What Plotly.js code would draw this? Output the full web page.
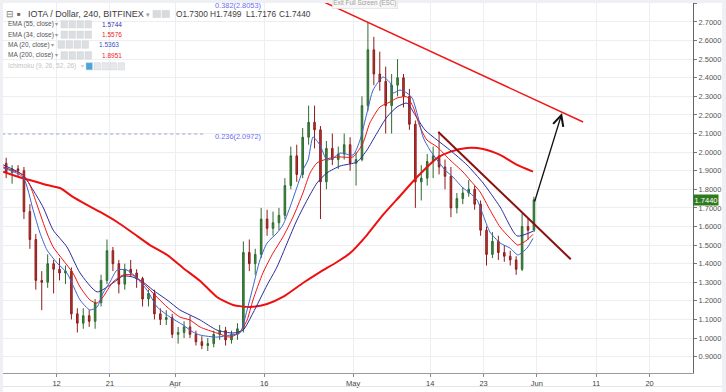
<!DOCTYPE html>
<html><head><meta charset="utf-8">
<script src="https://cdn.plot.ly/plotly-3.0.1.min.js"></script>
<style>html,body{margin:0;padding:0;background:#fff;}#chart{width:726px;height:392px;}</style>
</head><body><div id="chart"></div>
<script>
// ---------- DATA ----------
const dates = [
'2018-03-03','2018-03-04','2018-03-05','2018-03-06','2018-03-07','2018-03-08','2018-03-09','2018-03-10','2018-03-11','2018-03-12',
'2018-03-13','2018-03-14','2018-03-15','2018-03-16','2018-03-17','2018-03-18','2018-03-19','2018-03-20','2018-03-21','2018-03-22',
'2018-03-23','2018-03-24','2018-03-25','2018-03-26','2018-03-27','2018-03-28','2018-03-29','2018-03-30','2018-03-31',
'2018-04-01','2018-04-02','2018-04-03','2018-04-04','2018-04-05','2018-04-06','2018-04-07','2018-04-08','2018-04-09','2018-04-10',
'2018-04-11','2018-04-12','2018-04-13','2018-04-14','2018-04-15','2018-04-16','2018-04-17','2018-04-18','2018-04-19','2018-04-20',
'2018-04-21','2018-04-22','2018-04-23','2018-04-24','2018-04-25','2018-04-26','2018-04-27','2018-04-28','2018-04-29','2018-04-30',
'2018-05-01','2018-05-02','2018-05-03','2018-05-04','2018-05-05','2018-05-06','2018-05-07','2018-05-08','2018-05-09','2018-05-10',
'2018-05-11','2018-05-12','2018-05-13','2018-05-14','2018-05-15','2018-05-16','2018-05-17','2018-05-18','2018-05-19','2018-05-20',
'2018-05-21','2018-05-22','2018-05-23','2018-05-24','2018-05-25','2018-05-26','2018-05-27','2018-05-28','2018-05-29','2018-05-30','2018-05-31'];
const opens = [
1.94,1.89,1.91,1.90,1.68,1.53,1.31,1.30,1.40,1.37,
1.35,1.36,1.13,1.08,1.12,1.09,1.19,1.31,1.47,1.40,
1.29,1.37,1.35,1.32,1.21,1.24,1.13,1.10,1.11,
1.02,1.03,1.06,1.02,0.98,0.96,0.97,1.02,1.04,0.99,
1.02,1.05,1.46,1.40,1.45,1.64,1.59,1.62,1.66,1.82,
1.98,1.88,2.08,2.16,2.12,1.84,2.02,1.96,1.99,2.04,
1.94,1.96,2.25,2.55,2.42,2.38,2.25,2.36,2.40,2.30,
2.15,1.84,1.86,1.95,1.98,1.92,1.87,1.70,1.75,1.78,
1.80,1.72,1.58,1.45,1.52,1.46,1.44,1.42,1.37,1.60,1.58];
const highs = [
1.97,1.93,1.93,1.92,1.72,1.56,1.36,1.45,1.42,1.43,
1.39,1.38,1.16,1.16,1.15,1.21,1.34,1.53,1.49,1.42,
1.40,1.42,1.37,1.33,1.26,1.26,1.16,1.15,1.13,
1.06,1.09,1.12,1.04,1.01,1.00,1.04,1.07,1.06,1.04,
1.08,1.52,1.53,1.48,1.70,1.69,1.68,1.70,1.86,2.03,
2.04,2.13,2.25,2.25,2.14,2.06,2.10,2.03,2.10,2.08,
2.00,2.30,2.70,2.62,2.54,2.46,2.42,2.50,2.42,2.34,
2.17,1.93,1.99,2.03,2.11,1.96,1.92,1.78,1.81,1.85,
1.82,1.74,1.60,1.57,1.55,1.50,1.47,1.44,1.67,1.64,1.76];
const lows = [
1.86,1.83,1.87,1.64,1.48,1.26,1.15,1.27,1.24,1.31,
1.29,1.10,1.03,1.05,1.06,1.05,1.17,1.29,1.36,1.24,
1.26,1.33,1.27,1.17,1.17,1.10,1.07,1.07,1.00,
0.97,1.00,1.00,0.96,0.94,0.93,0.95,0.99,0.96,0.97,
0.99,1.03,1.36,1.34,1.43,1.55,1.55,1.58,1.64,1.80,
1.84,1.86,2.04,2.02,1.64,1.80,1.93,1.91,1.96,1.90,
1.82,1.95,2.22,2.36,2.33,2.10,2.10,2.30,2.24,2.12,
1.70,1.74,1.82,1.86,1.88,1.80,1.65,1.67,1.72,1.76,
1.69,1.55,1.39,1.43,1.42,1.41,1.39,1.34,1.36,1.53,1.57];
const closes = [
1.89,1.91,1.90,1.68,1.53,1.31,1.30,1.40,1.37,1.35,
1.36,1.13,1.08,1.12,1.09,1.19,1.31,1.47,1.40,1.29,
1.37,1.35,1.32,1.21,1.24,1.13,1.10,1.11,1.02,
1.03,1.06,1.02,0.98,0.96,0.97,1.02,1.04,0.99,1.02,
1.05,1.46,1.40,1.45,1.64,1.59,1.62,1.66,1.82,1.98,
1.88,2.08,2.16,2.12,1.84,2.02,1.96,1.99,2.04,1.94,
1.96,2.25,2.55,2.42,2.38,2.25,2.36,2.40,2.30,2.15,
1.84,1.86,1.95,1.98,1.92,1.87,1.70,1.75,1.78,1.80,
1.72,1.58,1.45,1.52,1.46,1.44,1.42,1.37,1.60,1.58,1.744];

const ma200Dates = ['2018-03-03 00:00','2018-03-06 04:00','2018-03-08 01:00','2018-03-10 09:00','2018-03-12 14:00','2018-03-14 18:00','2018-03-17 03:00','2018-03-19 08:00','2018-03-22 05:00','2018-03-24 21:00','2018-03-27 18:00','2018-03-30 15:00','2018-04-02 08:00','2018-04-05 05:00','2018-04-08 01:00','2018-04-10 18:00','2018-04-13 15:00','2018-04-16 12:00','2018-04-19 04:00','2018-04-22 13:00','2018-04-25 10:00','2018-04-28 07:00','2018-04-30 12:00','2018-05-03 08:00','2018-05-06 01:00','2018-05-08 22:00','2018-05-11 19:00','2018-05-15 04:00','2018-05-17 08:00','2018-05-20 05:00','2018-05-22 22:00','2018-05-25 19:00','2018-05-28 16:00','2018-05-31 08:00'];
const ma200Vals = [1.895,1.861,1.845,1.823,1.807,1.759,1.716,1.678,1.624,1.565,1.500,1.447,1.377,1.307,1.221,1.178,1.167,1.183,1.221,1.296,1.355,1.409,1.457,1.554,1.662,1.764,1.866,1.968,2.001,2.022,2.017,1.985,1.931,1.8951];

const ema55Dates = ['2018-03-03 00:00','2018-03-06 08:00','2018-03-08 01:00','2018-03-09 17:00','2018-03-11 10:00','2018-03-13 18:00','2018-03-15 23:00','2018-03-18 20:00','2018-03-21 12:00','2018-03-23 05:00','2018-03-24 21:00','2018-03-26 14:00','2018-03-28 06:00','2018-03-30 15:00','2018-04-01 19:00','2018-04-03 12:00','2018-04-05 05:00','2018-04-08 01:00','2018-04-10 18:00','2018-04-12 11:00','2018-04-14 03:00','2018-04-16 12:00','2018-04-18 04:00','2018-04-19 21:00','2018-04-21 13:00','2018-04-23 06:00','2018-04-24 22:00','2018-04-26 14:00','2018-04-28 19:00','2018-05-01 16:00','2018-05-03 08:00','2018-05-05 01:00','2018-05-06 17:00','2018-05-08 10:00','2018-05-10 02:00','2018-05-11 11:00','2018-05-13 03:00','2018-05-15 04:00','2018-05-17 08:00','2018-05-20 05:00','2018-05-22 22:00','2018-05-25 19:00','2018-05-28 16:00','2018-05-31 08:00'];
const ema55Vals = [1.931,1.877,1.796,1.705,1.581,1.490,1.350,1.248,1.296,1.334,1.328,1.301,1.258,1.205,1.151,1.124,1.097,1.043,1.027,1.043,1.135,1.285,1.382,1.511,1.635,1.742,1.834,1.888,1.925,1.947,2.011,2.103,2.189,2.243,2.264,2.200,2.119,2.065,2.011,1.931,1.834,1.705,1.549,1.5744];

const ema34Dates = ['2018-03-03 00:00','2018-03-06 08:00','2018-03-07 12:00','2018-03-08 17:00','2018-03-10 09:00','2018-03-11 10:00','2018-03-13 02:00','2018-03-14 18:00','2018-03-15 23:00','2018-03-17 15:00','2018-03-18 20:00','2018-03-19 20:00','2018-03-21 12:00','2018-03-23 05:00','2018-03-24 21:00','2018-03-26 14:00','2018-03-28 06:00','2018-03-30 15:00','2018-04-01 19:00','2018-04-03 12:00','2018-04-05 05:00','2018-04-08 01:00','2018-04-10 06:00','2018-04-11 22:00','2018-04-13 03:00','2018-04-14 03:00','2018-04-15 19:00','2018-04-17 12:00','2018-04-19 04:00','2018-04-20 21:00','2018-04-22 13:00','2018-04-23 18:00','2018-04-24 22:00','2018-04-27 03:00','2018-04-28 19:00','2018-05-01 00:00','2018-05-02 16:00','2018-05-03 20:00','2018-05-05 13:00','2018-05-07 06:00','2018-05-08 10:00','2018-05-10 02:00','2018-05-11 03:00','2018-05-12 07:00','2018-05-13 11:00','2018-05-15 04:00','2018-05-17 08:00','2018-05-19 13:00','2018-05-20 17:00','2018-05-22 10:00','2018-05-24 02:00','2018-05-25 19:00','2018-05-27 11:00','2018-05-28 19:00','2018-05-30 08:00','2018-05-31 08:00'];
const ema34Vals = [1.920,1.877,1.823,1.716,1.565,1.490,1.420,1.350,1.275,1.205,1.188,1.221,1.301,1.339,1.339,1.296,1.242,1.167,1.113,1.097,1.059,1.027,1.005,1.032,1.097,1.205,1.350,1.457,1.543,1.651,1.780,1.888,1.942,1.968,1.974,1.974,2.049,2.157,2.243,2.270,2.291,2.297,2.243,2.135,2.065,2.028,1.958,1.893,1.850,1.786,1.689,1.597,1.538,1.500,1.527,1.5576];

const ma20Dates = ['2018-03-03 00:00','2018-03-06 08:00','2018-03-08 01:00','2018-03-09 05:00','2018-03-10 09:00','2018-03-12 02:00','2018-03-13 18:00','2018-03-15 23:00','2018-03-17 15:00','2018-03-18 20:00','2018-03-19 20:00','2018-03-21 00:00','2018-03-22 05:00','2018-03-23 21:00','2018-03-25 13:00','2018-03-27 06:00','2018-03-28 23:00','2018-03-31 03:00','2018-04-02 08:00','2018-04-04 00:00','2018-04-05 05:00','2018-04-08 01:00','2018-04-10 06:00','2018-04-11 22:00','2018-04-13 03:00','2018-04-14 03:00','2018-04-15 07:00','2018-04-16 12:00','2018-04-18 04:00','2018-04-19 04:00','2018-04-20 09:00','2018-04-21 13:00','2018-04-22 13:00','2018-04-23 10:00','2018-04-24 06:00','2018-04-25 10:00','2018-04-26 14:00','2018-04-27 15:00','2018-04-28 19:00','2018-05-01 00:00','2018-05-02 04:00','2018-05-03 08:00','2018-05-04 09:00','2018-05-06 01:00','2018-05-07 06:00','2018-05-07 18:00','2018-05-08 22:00','2018-05-10 02:00','2018-05-10 23:00','2018-05-11 23:00','2018-05-12 19:00','2018-05-13 23:00','2018-05-15 04:00','2018-05-16 12:00','2018-05-17 20:00','2018-05-19 13:00','2018-05-20 17:00','2018-05-21 22:00','2018-05-22 22:00','2018-05-24 02:00','2018-05-25 19:00','2018-05-27 11:00','2018-05-28 19:00','2018-05-30 08:00','2018-05-31 08:00'];
const ma20Vals = [1.915,1.866,1.689,1.565,1.474,1.404,1.350,1.205,1.151,1.167,1.242,1.301,1.366,1.366,1.323,1.258,1.167,1.113,1.070,1.032,1.016,1.005,1.016,1.027,1.151,1.275,1.420,1.511,1.565,1.608,1.705,1.812,1.904,1.958,2.081,2.038,1.958,1.968,1.995,1.985,2.065,2.210,2.334,2.404,2.372,2.318,2.334,2.318,2.291,2.189,2.081,2.011,1.958,1.904,1.866,1.807,1.780,1.742,1.662,1.570,1.511,1.484,1.447,1.484,1.5363];

// trend lines drawn on the chart (date, price)
const resistDates = ['2018-04-25 12:00','2018-06-08 19:00'];
const resistPrices = [2.816, 2.162];
const channelDates = ['2018-05-15 09:00','2018-06-06 17:00'];
const channelPrices = [2.108, 1.4235];
const arrowDates = ['2018-05-31 13:00','2018-06-05 05:30'];
const arrowPrices = [1.726, 2.210];
const fib236 = 2.0972, fib382 = 2.8053;
const fibEnd = '2018-04-05 21:00';

const tickDates = ['2018-03-12','2018-03-21','2018-04-01','2018-04-16','2018-05-01','2018-05-14','2018-05-23','2018-06-01','2018-06-11','2018-06-20'];
const tickLabels = ['12','21','Apr','16','May','14','23','Jun','11','20'];

const lastPrice = 1.7440;
const ohlcText = ['O1.7300','H1.7499','L1.7176','C1.7440'];
const studies = [
  {name:'EMA (55, close)', value:'1.5744', color:'#3434b4'},
  {name:'EMA (34, close)', value:'1.5576', color:'#ee1c1c'},
  {name:'MA (20, close)',  value:'1.5363', color:'#3556c8'},
  {name:'MA (200, close)', value:'1.8951', color:'#ee1c1c'}
];

// ---------- LAYOUT HELPERS (pixel -> paper) ----------
const L=3, R=693, T=3, B=373;
const px = x => (x-L)/(R-L);
const py = y => (B-y)/(B-T);
const FONT = 'Liberation Sans, Arial, sans-serif';

const traces = [
  {type:'candlestick', x:dates, open:opens, high:highs, low:lows, close:closes,
   xperiod:86400000, xperiodalignment:'middle', whiskerwidth:0,
   increasing:{line:{color:'#2f6a2f',width:1}, fillcolor:'#3a8a3a'},
   decreasing:{line:{color:'#8c1c1c',width:1}, fillcolor:'#c0392b'},
   hoverinfo:'skip', showlegend:false},
  {type:'scatter', mode:'lines', x:ma200Dates, y:ma200Vals, line:{color:'#ee1010',width:2,shape:'spline',smoothing:0.6}, hoverinfo:'skip', showlegend:false},
  {type:'scatter', mode:'lines', x:ema55Dates, y:ema55Vals, line:{color:'#2a2a9c',width:1,shape:'spline',smoothing:0.6}, hoverinfo:'skip', showlegend:false},
  {type:'scatter', mode:'lines', x:ema34Dates, y:ema34Vals, line:{color:'#ee1515',width:1,shape:'spline',smoothing:0.6}, hoverinfo:'skip', showlegend:false},
  {type:'scatter', mode:'lines', x:ma20Dates, y:ma20Vals, line:{color:'#3b63cf',width:1,shape:'spline',smoothing:0.6}, hoverinfo:'skip', showlegend:false}
];

const shapes = [
  // frame bands
  {type:'rect', xref:'paper', yref:'paper', x0:px(0), x1:px(726), y0:py(3), y1:py(0), fillcolor:'#eef0f3', line:{width:0}, layer:'below'},
  {type:'rect', xref:'paper', yref:'paper', x0:px(0), x1:px(3), y0:py(392), y1:py(0), fillcolor:'#eef0f3', line:{width:0}, layer:'below'},
  {type:'rect', xref:'paper', yref:'paper', x0:px(722), x1:px(726), y0:py(392), y1:py(0), fillcolor:'#eef0f3', line:{width:0}, layer:'below'},
  {type:'line', xref:'paper', yref:'paper', x0:px(3), x1:px(722), y0:py(386.5), y1:py(386.5), line:{color:'#e2e5ea',width:1}},
  // fib 0.236 dotted level
  {type:'line', xref:'x', yref:'y', x0:'2018-03-02 20:00', x1:fibEnd, y0:fib236, y1:fib236, line:{color:'#9ea3d6',width:1,dash:'dot'}},
  // trend lines
  {type:'line', xref:'x', yref:'y', x0:resistDates[0], x1:resistDates[1], y0:resistPrices[0], y1:resistPrices[1], line:{color:'#f01818',width:1.5}},
  {type:'line', xref:'x', yref:'y', x0:channelDates[0], x1:channelDates[1], y0:channelPrices[0], y1:channelPrices[1], line:{color:'#8a0f0f',width:2}}
];

// icon boxes
function boxes(xs, yc, w, fill){
  xs.forEach(x0 => shapes.push({type:'rect', xref:'paper', yref:'paper', x0:px(x0), x1:px(x0+w), y0:py(yc+3.6), y1:py(yc-3.6), fillcolor:fill, line:{color:'#cfd2d6',width:0.5}}));
}
boxes([153,162], 14, 7.5, '#d8dadd');
boxes([61,69,77,85], 24.3, 6.5, '#dcdee1');
boxes([61,69,77,85], 34.7, 6.5, '#dcdee1');
boxes([58,66,74,82], 44.7, 6.5, '#dcdee1');
boxes([61,69,77,85], 55.3, 6.5, '#dcdee1');
boxes([94,102,110,118], 66.3, 6.5, '#e6e8ea');
boxes([86], 66.3, 6.5, '#4aa3df');

const ann = [];
function txt(x, y, s, size, color, anchor){
  ann.push({xref:'paper', yref:'paper', x:px(x), y:py(y), text:s, showarrow:false, xanchor:anchor||'left', yanchor:'middle',
            font:{family:FONT, size:size, color:color}});
}
txt(4, 14, '⊟', 9, '#777');
txt(15, 14, '■', 6, '#666');
txt(26, 14, 'IOTA / Dollar, 240, BITFINEX', 9, '#3d3d3d');
txt(144, 14, '▾', 7, '#9a9a9a');
[174,208,244,277].forEach((x,i)=>txt(x, 14, ohlcText[i], 8.3, '#3d3d3d'));
const rowY = [24.3, 34.7, 44.7, 55.3];
const arrowX = [53, 53, 49, 53];
const valX = [100, 100, 97, 100];
studies.forEach((s,i)=>{
  txt(6, rowY[i], s.name, 6.5, '#555');
  txt(arrowX[i], rowY[i], '▾', 5.5, '#999');
  txt(valX[i], rowY[i], s.value, 6.5, s.color);
});
txt(6, 66.3, 'Ichimoku (9, 26, 52, 26)', 6.5, '#c4c4c4');
txt(79, 66.3, '▾', 5.5, '#cfcfcf');
txt(213, 5.6, '0.382(' + fib382.toFixed(4) + ')', 7.4, '#6a6ef0');
txt(213, 136.8, '0.236(' + fib236.toFixed(4) + ')', 7.4, '#6a6ef0');
ann.push({xref:'paper', yref:'paper', x:px(364.5), y:py(4), text:'Exit Full Screen (ESC)', showarrow:false, xanchor:'center', yanchor:'middle',
          font:{family:FONT, size:6.3, color:'#a0a0a0'}, bgcolor:'#f7f7f7', bordercolor:'#d8d8d8', borderwidth:0.5, borderpad:0.8});
// last price tag
ann.push({xref:'paper', yref:'y', x:1, y:lastPrice, text:lastPrice.toFixed(4), showarrow:false, xanchor:'left', yanchor:'middle',
          font:{family:FONT, size:7.5, color:'#ffffff'}, bgcolor:'#2f7a1f', borderpad:0.6, xshift:0});
// forecast arrow
ann.push({xref:'x', yref:'y', axref:'x', ayref:'y', x:arrowDates[1], y:arrowPrices[1], ax:arrowDates[0], ay:arrowPrices[0],
          showarrow:true, arrowhead:5, arrowsize:1.6, arrowwidth:1.3, arrowcolor:'#111', text:''});

const layout = {
  width:726, height:392,
  margin:{l:L, r:726-R, t:T, b:392-B, pad:0},
  paper_bgcolor:'#ffffff', plot_bgcolor:'rgba(0,0,0,0)',
  showlegend:false, hovermode:false, dragmode:false,
  boxgap:0.62,
  font:{family:FONT, size:7.5, color:'#555'},
  xaxis:{type:'date', range:['2018-03-02 23:12','2018-06-27 07:40'], tickvals:tickDates, ticktext:tickLabels,
         ticks:'outside', ticklen:3, tickcolor:'#888', showline:true, linecolor:'#9a9a9a', linewidth:1,
         showgrid:true, gridcolor:'#eceef1', gridwidth:1, zeroline:false, fixedrange:true,
         rangeslider:{visible:false}, tickfont:{family:FONT, size:7.5, color:'#444'}},
  yaxis:{side:'right', range:[0.812, 2.802], tick0:0, dtick:0.1, tickformat:'.4f',
         ticks:'outside', ticklen:3, tickcolor:'#777', showline:true, linecolor:'#666', linewidth:1,
         showgrid:true, gridcolor:'#eceef1', gridwidth:1, zeroline:false, fixedrange:true,
         tickfont:{family:FONT, size:7.5, color:'#555'}},
  shapes:shapes, annotations:ann
};
Plotly.newPlot('chart', traces, layout, {displayModeBar:false, staticPlot:true});
</script></body></html>
